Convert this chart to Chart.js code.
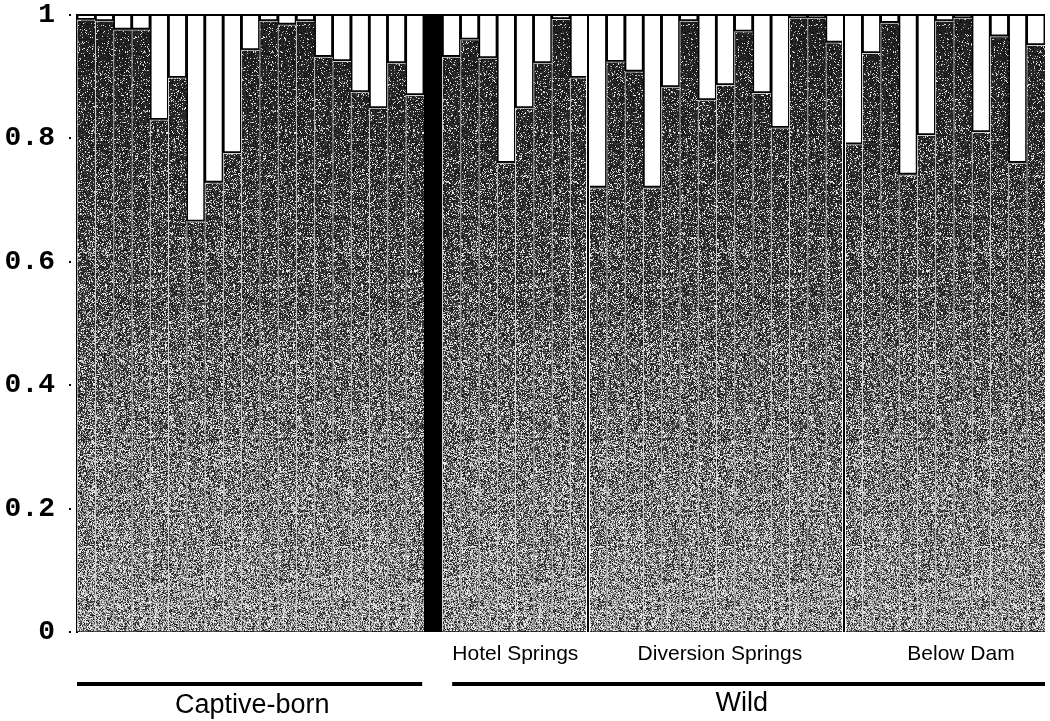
<!DOCTYPE html>
<html>
<head>
<meta charset="utf-8">
<script src="https://cdn.jsdelivr.net/npm/chart.js@4/dist/chart.umd.min.js"></script>
<style>
  html, body { margin: 0; padding: 0; background: #ffffff; }
  #wrap { position: relative; width: 1050px; height: 721px; }
</style>
</head>
<body>
<div id="wrap"><canvas id="c" width="1050" height="721"></canvas></div>
<script>
// ---- Data (proportion of ancestry in cluster 1) ----
const captiveBorn = [0.992, 0.99, 0.976, 0.976, 0.83, 0.898, 0.665, 0.728, 0.776, 0.943,
                     0.99, 0.984, 0.99, 0.932, 0.925, 0.875, 0.849, 0.922, 0.87];
const hotelSprings = [0.932, 0.96, 0.93, 0.76, 0.849, 0.922, 0.993, 0.898];
const diversionSprings = [0.72, 0.924, 0.908, 0.72, 0.883, 0.99, 0.862, 0.886, 0.973,
                          0.873, 0.817, 0.995, 0.995, 0.955];
const belowDam = [0.79, 0.938, 0.987, 0.741, 0.805, 0.99, 0.995, 0.81, 0.965, 0.76, 0.951];

const yTicks = [0, 0.2, 0.4, 0.6, 0.8, 1];
const yTickLabels = ['0', '0.2', '0.4', '0.6', '0.8', '1'];

const subGroupNames = ['Hotel Springs', 'Diversion Springs', 'Below Dam'];
const mainGroupNames = ['Captive-born', 'Wild'];

// ---- Build category list ----
const labels = [];
const cluster1 = [];
const separator = [];
function addGroup(prefix, arr) {
  arr.forEach((v, i) => { labels.push(prefix + (i + 1)); cluster1.push(v); separator.push(null); });
}
addGroup('C', captiveBorn);
labels.push('sep'); cluster1.push(null); separator.push(1);
const hotelStart = labels.length;
addGroup('H', hotelSprings);
const divStart = labels.length;
addGroup('D', diversionSprings);
const damStart = labels.length;
addGroup('B', belowDam);
const nCat = labels.length;
const cluster2 = cluster1.map(v => v === null ? null : 1 - v);

// ---- Speckled grey texture (style only) ----
function hash(x, y) {
  let n = Math.imul(x, 374761393) + Math.imul(y, 668265263);
  n = Math.imul(n ^ (n >>> 13), 1274126177);
  n = n ^ (n >>> 16);
  return (n >>> 0) / 4294967296;
}
function makeTexture() {
  const w = 128, h = 721;
  const cv = document.createElement('canvas');
  cv.width = w; cv.height = h;
  const cx = cv.getContext('2d');
  const img = cx.createImageData(w, h);
  for (let y = 0; y < h; y++) {
    const t = Math.min(1, Math.max(0, (y - 15) / 617));
    const prob = 0.08 + 0.5 * t;
    for (let x = 0; x < w; x++) {
      const r = hash(x, y);
      const r2 = hash(x + 911, y + 377);
      let v;
      if (r < prob) v = 150 + Math.floor(r2 * 105);
      else v = 15 + Math.floor(r2 * 80 * (0.4 + t));
      const k = (y * w + x) * 4;
      img.data[k] = v; img.data[k + 1] = v; img.data[k + 2] = v; img.data[k + 3] = 255;
    }
  }
  cx.putImageData(img, 0, 0);
  return cx.createPattern(cv, 'repeat');
}

const ctx = document.getElementById('c').getContext('2d');
const texture = makeTexture();

const decorPlugin = {
  id: 'decor',
  beforeDatasetsDraw(chart) {
    const a = chart.chartArea, c = chart.ctx;
    c.save();
    c.fillStyle = '#000';
    c.fillRect(a.left, a.top, a.right - a.left, a.bottom - a.top);
    c.restore();
  },
  afterDatasetsDraw(chart) {
    const a = chart.chartArea, c = chart.ctx, xs = chart.scales.x, ys = chart.scales.y;
    c.save();
    // sub-group separators
    [hotelStart + hotelSprings.length, divStart + diversionSprings.length].forEach(idx => {
      const px = Math.round(xs.getPixelForValue(idx - 0.5));
      c.fillStyle = '#fff';
      c.fillRect(px - 2, a.top, 4, a.bottom - a.top);
      c.fillStyle = '#000';
      c.fillRect(px - 1, a.top, 2, a.bottom - a.top);
    });
    // top frame line
    c.fillStyle = '#000';
    c.fillRect(a.left, a.top - 1, a.right - a.left, 2);
    // small tick dots
    yTicks.forEach(v => {
      const py = Math.round(ys.getPixelForValue(v));
      c.fillRect(a.left - 8, py - 1, 2, 2);
    });
    c.restore();
  },
  afterDraw(chart) {
    const c = chart.ctx, xs = chart.scales.x;
    c.save();
    c.fillStyle = '#000';
    c.textAlign = 'center';
    c.textBaseline = 'alphabetic';
    // sub-group labels
    c.font = '21px "Liberation Sans", Arial, sans-serif';
    const subPos = [hotelStart + (hotelSprings.length - 1) / 2,
                    divStart + (diversionSprings.length - 1) / 2 + 0.2,
                    damStart + (belowDam.length - 1) / 2 + 0.9];
    subGroupNames.forEach((n, i) => c.fillText(n, xs.getPixelForValue(subPos[i]), 660));
    // main group bars
    const lineY = 682;
    const x0 = xs.getPixelForValue(-0.5), x1 = xs.getPixelForValue(hotelStart - 1.6);
    const x2 = xs.getPixelForValue(hotelStart + 0.04), x3 = xs.getPixelForValue(nCat - 0.5);
    c.fillRect(x0, lineY, x1 - x0, 4);
    c.fillRect(x2, lineY, x3 - x2, 4);
    c.font = '27px "Liberation Sans", Arial, sans-serif';
    c.fillText(mainGroupNames[0], xs.getPixelForValue((hotelStart - 2) / 2 + 0.1), 713);
    c.fillText(mainGroupNames[1], xs.getPixelForValue(hotelStart + (nCat - 1 - hotelStart) / 2 - 0.1), 711);
    c.restore();
  }
};

new Chart(ctx, {
  type: 'bar',
  data: {
    labels: labels,
    datasets: [
      {
        label: 'Cluster 1',
        data: cluster1,
        backgroundColor: texture,
        borderColor: 'rgba(235,235,235,0.9)',
        borderWidth: { left: 1, right: 0, top: 1, bottom: 0 },
        borderSkipped: false,
        barPercentage: 1,
        categoryPercentage: 1
      },
      {
        label: 'Cluster 2',
        data: cluster2,
        backgroundColor: '#ffffff',
        borderColor: '#000000',
        borderWidth: { left: 0, right: 0, top: 0, bottom: 2 },
        borderSkipped: false,
        barPercentage: 0.86,
        categoryPercentage: 1
      },
      {
        label: 'Separator',
        data: separator,
        backgroundColor: '#000000',
        borderWidth: 0,
        barPercentage: 1.08,
        categoryPercentage: 1
      }
    ]
  },
  options: {
    responsive: false,
    animation: false,
    layout: { padding: { top: 15, right: 5, bottom: 89, left: 0 } },
    plugins: { legend: { display: false }, tooltip: { enabled: false } },
    scales: {
      x: {
        stacked: true,
        display: false,
        offset: true,
        grid: { display: false }
      },
      y: {
        stacked: true,
        min: 0,
        max: 1,
        afterFit(scale) { scale.width = 77; },
        afterBuildTicks(scale) { scale.ticks = yTicks.map(v => ({ value: v })); },
        ticks: {
          callback: (v) => yTickLabels[yTicks.indexOf(Math.round(v * 10) / 10)],
          color: '#000',
          padding: 0,
          font: { family: '"Liberation Mono", "Courier New", monospace', size: 28, weight: 'bold', lineHeight: 1 }
        },
        grid: { drawOnChartArea: false, drawTicks: true, tickLength: 22, tickColor: 'rgba(0,0,0,0)' },
        border: { display: true, color: '#000', width: 2 }
      }
    }
  },
  plugins: [decorPlugin]
});
</script>
</body>
</html>
